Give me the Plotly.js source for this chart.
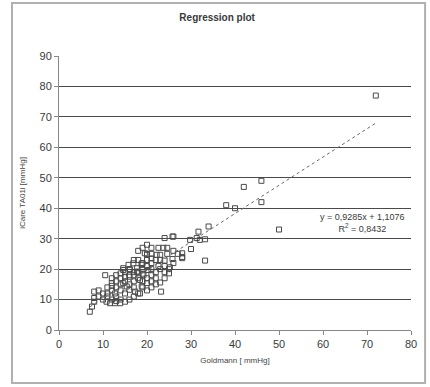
<!DOCTYPE html>
<html>
<head>
<meta charset="utf-8">
<script src="https://cdn.plot.ly/plotly-3.0.1.min.js"></script>
<style>
html,body{margin:0;padding:0;background:#fff;}
#chart{width:430px;height:387px;}
</style>
</head>
<body>
<div id="chart"></div>
<script>
// Goldmann [mmHg] readings
var goldmann = [
  7, 7.5, 8, 8, 8, 10, 10.8, 11.6, 12.7, 13.9, 15, 11, 12, 12.7, 13, 12, 13, 14, 14.6, 15.4,
  16, 17.3, 18, 14, 14.6, 15.8, 16.9, 17.7, 18.8, 20, 19.5, 10.5, 16, 17, 18.4, 19.2, 20, 18.8, 20.3,
  24, 25.8, 29.8, 31.3, 32, 31.7, 33.2, 33.2, 20, 21, 22.6, 23.7, 24.6, 20, 22.2, 23, 24.6, 24, 25.8,
  28, 28, 25.2, 25, 23.2, 23, 18.4, 18.8, 21, 22.6, 14.6, 16.1, 17.7,
  13, 14, 15, 15, 16, 16, 17, 17, 18, 18, 19, 19, 20, 20, 21, 21, 22, 22, 21, 20, 19, 17, 16, 14,
  13, 12, 11, 10, 9, 11, 12, 13, 15, 16, 17, 18, 19, 20, 21, 22, 23, 24, 22, 21, 24, 25, 26, 27,
  23, 18, 19, 9, 12, 14, 15, 17, 19, 21, 24, 26,
  72, 46, 42, 46, 50, 38, 40, 34, 30, 28, 26
];
// iCare TA01i [mmHg] readings
var icare = [
  6, 7.7, 9.3, 10.5, 12.6, 10, 9.3, 8.8, 8.8, 8.8, 9.3, 12, 13, 12, 11, 15.4, 16, 17, 15.4, 14.3,
  13.2, 12.6, 12, 18.6, 20.3, 21.4, 21.9, 20.3, 21.4, 23, 25.2, 18, 17.5, 16, 16.4, 18, 15.4, 14.3, 19.7,
  30.2, 30.7, 29.6, 30.2, 29.6, 32.3, 29.8, 22.8, 28, 27, 27, 27, 27, 24.7, 24.7, 24.7, 25, 22.8, 23.3,
  25.2, 24, 20.6, 18.6, 12.6, 15.6, 12, 21.9, 22, 21, 19.7, 19.9, 19.2,
  14, 13, 12, 16, 15, 18, 14, 18, 17, 19, 20, 16, 17, 21, 18, 20, 19, 17, 16, 13, 14, 11, 10, 10,
  9.5, 10, 11, 12, 11, 14, 17, 18, 19, 20, 23, 23, 22, 25, 25, 23, 20, 21, 15, 14, 17, 20, 22, 25,
  23, 26, 27, 13, 14.5, 15, 17.5, 19, 18.5, 23.5, 19, 26,
  77, 49, 47, 42, 33, 41, 40, 34, 26.6, 23.6, 30.7
];
var slope = 0.9285, intercept = 1.1076, rSquared = 0.8432;
var trendX = [7, 72];
var xTicks = [0, 10, 20, 30, 40, 50, 60, 70, 80];
var yTicks = [0, 10, 20, 30, 40, 50, 60, 70, 80, 90];

var trendY = trendX.map(function (x) { return slope * x + intercept; });

var data = [
  {
    x: goldmann, y: icare, type: 'scatter', mode: 'markers',
    marker: { symbol: 'square-open', size: 5, color: '#4a4a4a', line: { width: 1, color: '#4a4a4a' } },
    hoverinfo: 'x+y', showlegend: false
  },
  {
    x: trendX, y: trendY, type: 'scatter', mode: 'lines',
    line: { color: '#666', width: 1, dash: 'dot' },
    hoverinfo: 'skip', showlegend: false
  }
];

var tickFont = { family: 'Liberation Sans, Arial, sans-serif', size: 11, color: '#3a3a3a' };

var layout = {
  width: 430, height: 387,
  margin: { l: 59, r: 19, t: 56, b: 57 },
  paper_bgcolor: '#fff', plot_bgcolor: '#fff',
  title: {
    text: '<b>Regression plot</b>',
    font: { family: 'Liberation Sans, Arial, sans-serif', size: 10, color: '#3a3a3a' },
    x: 0.505, xanchor: 'center', y: 0.955, yanchor: 'middle'
  },
  xaxis: {
    range: [0, 80], tickvals: xTicks, ticktext: xTicks.map(String),
    showgrid: false, zeroline: false,
    showline: true, linecolor: '#888', linewidth: 1,
    ticks: 'outside', ticklen: 4, tickcolor: '#888',
    tickfont: tickFont,
    title: { text: 'Goldmann [ mmHg]', font: { family: 'Liberation Sans, Arial, sans-serif', size: 8, color: '#444' }, standoff: 8 }
  },
  yaxis: {
    range: [0, 90], tickvals: yTicks, ticktext: yTicks.map(String),
    showgrid: true, gridcolor: '#4a4a4a', gridwidth: 1, zeroline: false,
    showline: true, linecolor: '#888', linewidth: 1,
    ticks: 'outside', ticklen: 4, tickcolor: '#888',
    tickfont: tickFont,
    title: { text: 'iCare TA01i [mmHg]', font: { family: 'Liberation Sans, Arial, sans-serif', size: 8, color: '#444' }, standoff: 12 }
  },
  annotations: [
    {
      x: 69, y: 35, xref: 'x', yref: 'y',
      text: 'y = 0,9285x + 1,1076<br>R<sup>2</sup> = 0,8432',
      showarrow: false, align: 'center', xanchor: 'center', yanchor: 'middle',
      font: { family: 'Liberation Sans, Arial, sans-serif', size: 9, color: '#3a3a3a' }
    }
  ],
  shapes: [
    {
      type: 'rect', xref: 'paper', yref: 'paper',
      x0: -0.1335, x1: 1.04, y0: -0.193, y1: 1.193,
      line: { color: '#b0b0b0', width: 2 }, fillcolor: 'rgba(0,0,0,0)'
    }
  ]
};

Plotly.newPlot('chart', data, layout, { displayModeBar: false, staticPlot: true });
</script>
</body>
</html>
